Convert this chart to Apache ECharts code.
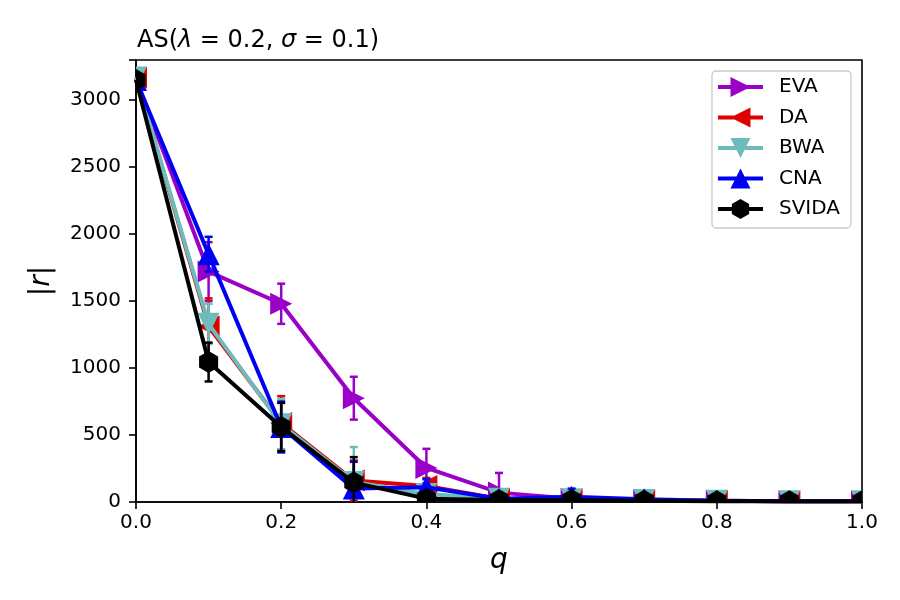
<!DOCTYPE html>
<html>
<head>
<meta charset="utf-8">
<script src="https://cdn.jsdelivr.net/npm/echarts@6/dist/echarts.min.js"></script>
<style>
  html, body { margin: 0; padding: 0; background: #fff; }
  #chart { width: 900px; height: 600px; }
</style>
</head>
<body>
<div id="chart"></div>
<script>
(function () {

    var Q = [0.0, 0.1, 0.2, 0.3, 0.4, 0.5, 0.6, 0.7, 0.8, 0.9, 1.0];
    var X_TICKS = [0.0, 0.2, 0.4, 0.6, 0.8, 1.0];
    var Y_TICKS = [0, 500, 1000, 1500, 2000, 2500, 3000];

    var EVA = [3160, 1720, 1480, 775, 254, 70, 25, 15, 10, 5, 5];
    var EVA_ERR = [30, 220, 150, 160, 143, 147, 20, 10, 8, 5, 5];
    var DA = [3170, 1310, 590, 160, 120, 25, 20, 15, 10, 5, 5];
    var DA_ERR = [40, 210, 200, 150, 60, 20, 15, 10, 5, 5, 5];
    var BWA = [3170, 1330, 580, 150, 60, 25, 20, 15, 10, 5, 5];
    var BWA_ERR = [40, 150, 190, 260, 40, 20, 15, 10, 5, 5, 5];
    var CNA = [3150, 1850, 560, 100, 110, 25, 40, 20, 10, 5, 5];
    var CNA_ERR = [40, 130, 190, 200, 60, 20, 60, 20, 5, 5, 5];
    var SVIDA = [3150, 1045, 560, 145, 25, 15, 15, 10, 5, 5, 5];
    var SVIDA_ERR = [40, 145, 180, 190, 20, 15, 15, 10, 5, 5, 5];

    var SERIES = [
        { name: 'EVA', vals: EVA, err: EVA_ERR, color: '#9a00c6', marker: 'right' },
        { name: 'DA', vals: DA, err: DA_ERR, color: '#e00000', marker: 'left' },
        { name: 'BWA', vals: BWA, err: BWA_ERR, color: '#6dbcbd', marker: 'down' },
        { name: 'CNA', vals: CNA, err: CNA_ERR, color: '#0000f5', marker: 'up' },
        { name: 'SVIDA', vals: SVIDA, err: SVIDA_ERR, color: '#000000', marker: 'hex' }
    ];

    var FONT = 'DejaVu Sans';
    var MS = 11; // half marker size, px

    //
    function markerPoints(kind, x, y, s) {
        if (kind === 'up') { return [[x, y - s], [x + s, y + s], [x - s, y + s]]; }
        if (kind === 'down') { return [[x, y + s], [x + s, y - s], [x - s, y - s]]; }
        if (kind === 'right') { return [[x + s, y], [x - s, y - s], [x - s, y + s]]; }
        if (kind === 'left') { return [[x - s, y], [x + s, y - s], [x + s, y + s]]; }
        var pts = [];
        for (var k = 0; k < 6; k++) {
            var a = Math.PI / 2 + k * Math.PI / 3;
            pts.push([x + s * Math.cos(a), y - s * Math.sin(a)]);
        }
        return pts;
    }

    // path with every sub polygon turned the same way, so nothing is cut out
    function toPath(polys) {
        var d = '';
        polys.forEach(function (p) {
            var area = 0;
            for (var i = 0; i < p.length; i++) {
                var a = p[i], b = p[(i + 1) % p.length];
                area += a[0] * b[1] - b[0] * a[1];
            }
            if (area < 0) { p = p.slice().reverse(); }
            d += 'M' + p.map(function (pt) { return pt[0].toFixed(2) + ',' + pt[1].toFixed(2); }).join(' L') + ' Z ';
        });
        return 'path://' + d;
    }

    //
    function legendIcon(kind) {
        var bar = [[0, 8], [45, 8], [45, 12], [0, 12]];
        return toPath([bar, markerPoints(kind, 22.5, 10, 10)]);
    }

    //
    function markerRender(kind, color) {
        return function (params, api) {
            var c = api.coord([api.value(0), api.value(1)]);
            return {
                type: 'polygon',
                shape: { points: markerPoints(kind, c[0], c[1], MS) },
                style: { fill: color, stroke: null }
            };
        };
    }

    //
    function errorRender(color) {
        return function (params, api) {
            var x = api.value(0);
            var lo = api.coord([x, api.value(1)]);
            var hi = api.coord([x, api.value(2)]);
            var cap = 4;
            var style = { stroke: color, lineWidth: 2.5, fill: null };
            return {
                type: 'group',
                children: [
                    { type: 'line', shape: { x1: lo[0], y1: lo[1], x2: hi[0], y2: hi[1] }, style: style },
                    { type: 'line', shape: { x1: lo[0] - cap, y1: lo[1], x2: lo[0] + cap, y2: lo[1] }, style: style },
                    { type: 'line', shape: { x1: hi[0] - cap, y1: hi[1], x2: hi[0] + cap, y2: hi[1] }, style: style }
                ]
            };
        };
    }

    var series = [];
    SERIES.forEach(function (s, i) {
        var pts = Q.map(function (q, k) { return [q, s.vals[k]]; });
        series.push({
            name: s.name,
            type: 'line',
            data: pts,
            showSymbol: false,
            color: s.color,
            lineStyle: { width: 4, color: s.color },
            itemStyle: { color: s.color },
            clip: true,
            z: 10 + i * 3,
            animation: false
        });
        series.push({
            name: s.name,
            type: 'custom',
            renderItem: errorRender(s.color),
            data: Q.map(function (q, k) { return [q, s.vals[k] - s.err[k], s.vals[k] + s.err[k]]; }),
            encode: { x: 0, y: [1, 2] },
            clip: true,
            z: 11 + i * 3,
            animation: false
        });
        series.push({
            name: s.name,
            type: 'custom',
            renderItem: markerRender(s.marker, s.color),
            data: pts,
            encode: { x: 0, y: 1 },
            clip: true,
            z: 12 + i * 3,
            animation: false
        });
    });

    var chart = echarts.init(document.getElementById('chart'));

    var option = {
        backgroundColor: '#fff',
        animation: false,
        title: {
            text: 'AS({i|λ} = 0.2, {i|σ} = 0.1)',
            left: 132,
            top: 24,
            textStyle: {
                fontFamily: FONT, fontSize: 24, fontWeight: 'normal', color: '#000',
                rich: { i: { fontFamily: FONT, fontSize: 24, fontStyle: 'italic', color: '#000' } }
            }
        },
        grid: {
            left: 136, right: 38, top: 60, bottom: 98,
            show: true, borderColor: '#000', borderWidth: 1.6
        },
        legend: {
            right: 49,
            top: 71,
            orient: 'vertical',
            data: SERIES.map(function (s) {
                return { name: s.name, icon: legendIcon(s.marker), itemStyle: { color: s.color } };
            }),
            itemWidth: 45,
            itemHeight: 25,
            itemGap: 10.5,
            padding: [6, 11, 9, 6],
            backgroundColor: 'rgba(255,255,255,0.8)',
            borderColor: '#cccccc',
            borderWidth: 1.3,
            borderRadius: 4,
            textStyle: { fontFamily: FONT, fontSize: 20, color: '#000', padding: [0, 0, 0, 11] }
        },
        xAxis: {
            type: 'value',
            min: 0, max: 1, interval: 0.2,
            name: 'q',
            nameLocation: 'middle',
            nameGap: 45,
            nameTextStyle: { fontFamily: FONT, fontSize: 28, fontStyle: 'italic', color: '#000' },
            axisLine: { show: true, onZero: false, lineStyle: { color: '#000', width: 1.6 } },
            axisTick: { show: true, inside: false, length: 7, lineStyle: { color: '#000', width: 1.6 } },
            axisLabel: {
                fontFamily: FONT, fontSize: 20, color: '#000', margin: 11,
                formatter: function (v) {
                    for (var i = 0; i < X_TICKS.length; i++) {
                        if (Math.abs(X_TICKS[i] - v) < 1e-9) { return X_TICKS[i].toFixed(1); }
                    }
                    return '';
                }
            },
            splitLine: { show: false }
        },
        yAxis: {
            type: 'value',
            min: 0, max: 3300, interval: 500,
            name: '|{i|r}|',
            nameLocation: 'middle',
            nameGap: 80,
            nameRotate: 90,
            nameTextStyle: {
                fontFamily: FONT, fontSize: 28, color: '#000',
                rich: { i: { fontFamily: FONT, fontSize: 28, fontStyle: 'italic', color: '#000' } }
            },
            axisLine: { show: true, lineStyle: { color: '#000', width: 1.6 } },
            axisTick: { show: true, inside: false, length: 7, lineStyle: { color: '#000', width: 1.6 } },
            axisLabel: {
                fontFamily: FONT, fontSize: 20, color: '#000', margin: 15,
                formatter: function (v) {
                    return Y_TICKS.indexOf(v) >= 0 ? String(v) : '';
                }
            },
            splitLine: { show: false }
        },
        series: series
    };

    chart.setOption(option);

}());
</script>
</body>
</html>
